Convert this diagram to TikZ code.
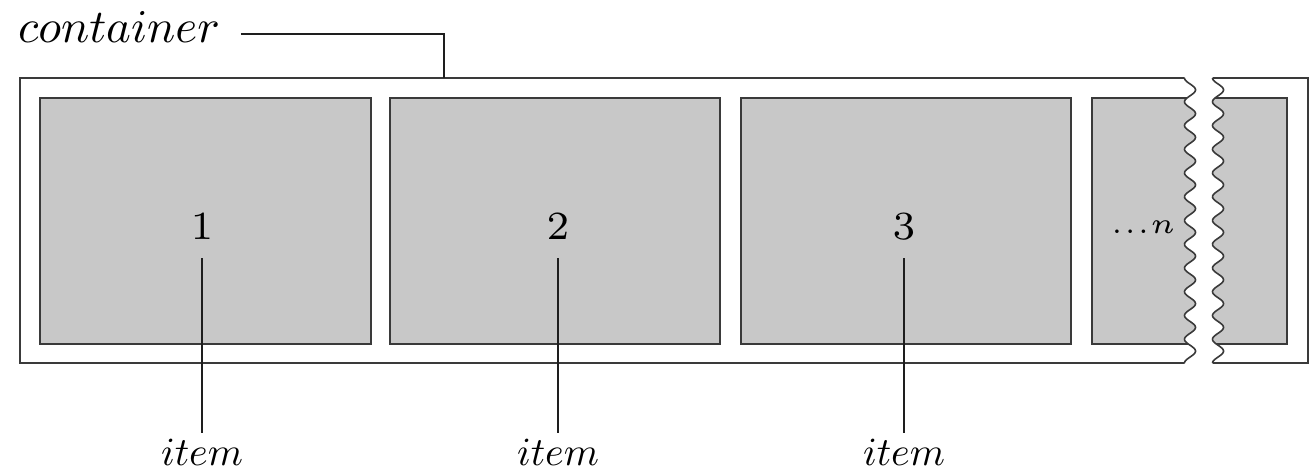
\documentclass[tikz,border=0pt]{standalone}
\usepackage{graphicx}
\definecolor{boxgray}{HTML}{C8C8C8}
\definecolor{edge}{HTML}{3A3A3A}
\definecolor{linec}{HTML}{1E1E1E}
\newcommand{\bigtxt}[2]{\scalebox{#1}{#2}}
\begin{document}
\begin{tikzpicture}[x=1pt,y=-1pt,
  cont/.style={draw=edge, line width=1.6pt, fill=white, inner sep=0pt, outer sep=0pt},
  itembox/.style={draw=edge, line width=1.6pt, fill=boxgray, inner sep=0pt, outer sep=0pt, minimum height=246pt},
  lbl/.style={inner sep=0pt, outer sep=0pt, anchor=base},
  conn/.style={draw=linec, line width=1.6pt},
  wave/.style={draw=edge, line width=1.6pt}]
\useasboundingbox (0,0) rectangle (1311,472);
% container and items
\node[cont, minimum width=1288pt, minimum height=285pt] (cbox) at (664,220.5) {};
\node[itembox, minimum width=331pt] (i1) at (205.5,221) {};
\node[itembox, minimum width=330pt] (i2) at (555,221) {};
\node[itembox, minimum width=330pt] (i3) at (906,221) {};
\node[itembox, minimum width=195pt] (in) at (1189.5,221) {};
% break
\fill[white] plot[domain=76:365, samples=300, smooth] ({1190-5.5*cos(15.158*(\x-78))}, \x)
  -- plot[domain=365:76, samples=300, smooth] ({1218-5.5*cos(15.158*(\x-78))}, \x) -- cycle;
\draw[wave] plot[domain=78:363, samples=300, smooth] ({1190-5.5*cos(15.158*(\x-78))}, \x);
\draw[wave] plot[domain=78:363, samples=300, smooth] ({1218-5.5*cos(15.158*(\x-78))}, \x);
% numbers
\node[lbl] (n1) at (202,239) {\bigtxt{5.71}{$\scriptstyle 1$}};
\node[lbl] (n2) at (558,239) {\bigtxt{5.71}{$\scriptstyle 2$}};
\node[lbl] (n3) at (904,239) {\bigtxt{5.71}{$\scriptstyle 3$}};
\node[lbl] (dn) at (1143,233) {\bigtxt{5.8}{$\scriptscriptstyle\ldots n$}};
% item labels
\node[lbl] (l1) at (202,465) {\bigtxt{4}{$item$}};
\node[lbl] (l2) at (558,465) {\bigtxt{4}{$item$}};
\node[lbl] (l3) at (904,465) {\bigtxt{4}{$item$}};
\draw[conn] ([yshift=-19pt]n1.south) -- ([yshift=6pt]l1.north);
\draw[conn] ([yshift=-19pt]n2.south) -- ([yshift=6pt]l2.north);
\draw[conn] ([yshift=-19pt]n3.south) -- ([yshift=6pt]l3.north);
% container label
\node[lbl, anchor=base west] (ct) at (18,42) {\bigtxt{4.7}{$container$}};
\coordinate (ctop) at (444,78);
\draw[conn] ([xshift=21pt,yshift=8pt]ct.base east) -| (ctop);
\end{tikzpicture}
\end{document}
